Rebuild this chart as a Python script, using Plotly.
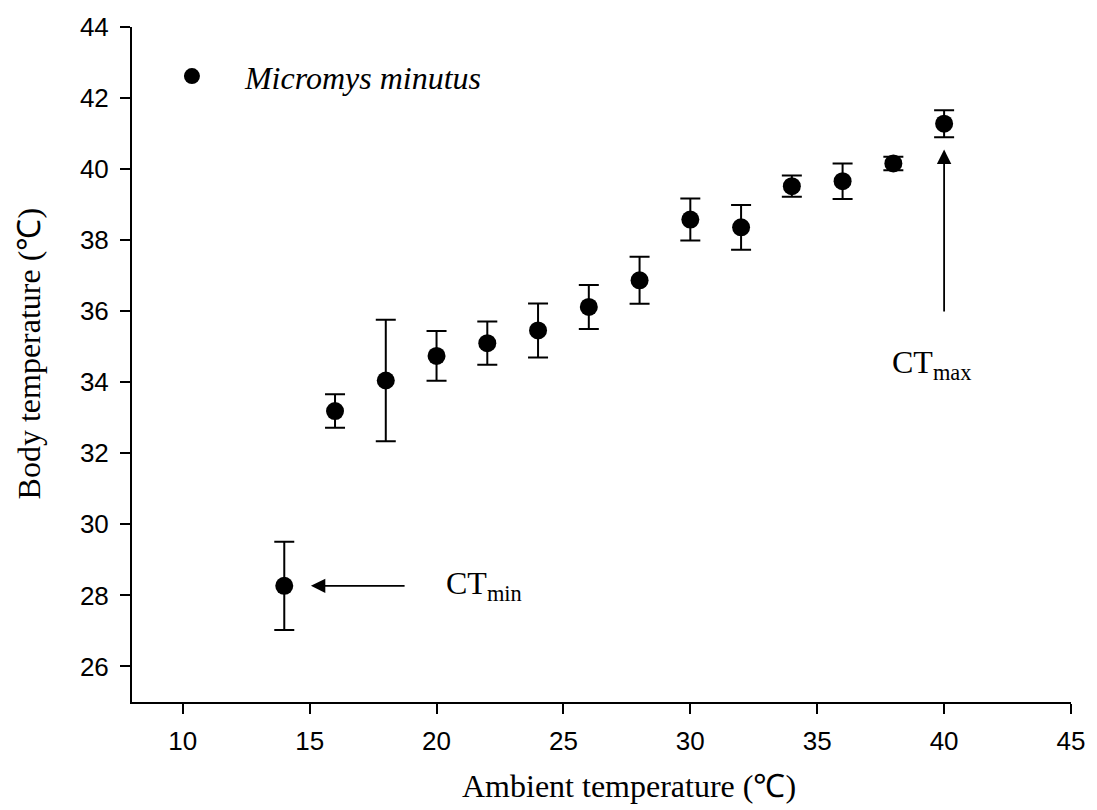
import plotly.graph_objects as go

# Ambient temperature (°C) and mean body temperature ± SE
ambient = [14, 16, 18, 20, 22, 24, 26, 28, 30, 32, 34, 36, 38, 40]
body_mean = [28.27, 33.19, 34.05, 34.74, 35.10, 35.46, 36.12, 36.87, 38.58, 38.36,
             39.52, 39.66, 40.16, 41.28]
body_se = [1.24, 0.47, 1.71, 0.70, 0.61, 0.76, 0.62, 0.66, 0.59, 0.63,
           0.30, 0.50, 0.19, 0.38]

species = "Micromys minutus"

# Critical thermal limits (arrow tip / tail in data units)
ctmin_tip = (15.05, 28.27)
ctmin_tail = (18.8, 28.27)
ctmax_tip = (40.0, 40.55)
ctmax_tail = (40.0, 35.95)

x_ticks = [10, 15, 20, 25, 30, 35, 40, 45]
y_ticks = [26, 28, 30, 32, 34, 36, 38, 40, 42, 44]

serif = "Liberation Serif, Times New Roman, serif"
sans = "Liberation Sans, Arial, sans-serif"

fig = go.Figure()
fig.add_trace(go.Scatter(
    x=ambient, y=body_mean, mode="markers", name=species,
    marker=dict(color="black", size=18, symbol="circle"),
    error_y=dict(type="data", array=body_se, visible=True,
                 color="black", thickness=2, width=10),
))

annotations = [
    dict(x=ctmin_tip[0], y=ctmin_tip[1], ax=ctmin_tail[0], ay=ctmin_tail[1],
         xref="x", yref="y", axref="x", ayref="y", text="", showarrow=True,
         arrowhead=2, arrowsize=1.6, arrowwidth=1.8, arrowcolor="black"),
    dict(x=ctmax_tip[0], y=ctmax_tip[1], ax=ctmax_tail[0], ay=ctmax_tail[1],
         xref="x", yref="y", axref="x", ayref="y", text="", showarrow=True,
         arrowhead=2, arrowsize=1.6, arrowwidth=1.8, arrowcolor="black"),
    dict(x=20.3, y=28.27, xref="x", yref="y", text="CT<sub>min</sub>",
         showarrow=False, xanchor="left", yanchor="middle",
         font=dict(family=serif, size=32, color="black")),
    dict(x=37.85, y=34.5, xref="x", yref="y", text="CT<sub>max</sub>",
         showarrow=False, xanchor="left", yanchor="middle",
         font=dict(family=serif, size=32, color="black")),
    # axis titles
    dict(x=-0.11, y=0.516, xref="paper", yref="paper",
         text="Body temperature (℃)", textangle=-90, showarrow=False,
         xanchor="center", yanchor="middle",
         font=dict(family=serif, size=32, color="black")),
    dict(x=0.529, y=-0.124, xref="paper", yref="paper",
         text="Ambient temperature (℃)", showarrow=False,
         xanchor="center", yanchor="middle",
         font=dict(family=serif, size=32, color="black")),
]

fig.update_layout(
    width=1097, height=810,
    margin=dict(l=132, r=20, t=23, b=108),
    paper_bgcolor="white", plot_bgcolor="white",
    showlegend=True,
    legend=dict(x=0.0074, y=0.927, xanchor="left", yanchor="middle",
                bgcolor="rgba(0,0,0,0)", itemwidth=96,
                font=dict(family=serif, size=32, color="black", style="italic")),
    annotations=annotations,
    xaxis=dict(
        range=[8, 45], tickvals=x_ticks, showgrid=False, zeroline=False,
        showline=True, linecolor="black", linewidth=2,
        ticks="outside", ticklen=10, tickwidth=2, tickcolor="black",
        ticklabelstandoff=5,
        tickfont=dict(family=sans, size=26, color="black"),
    ),
    yaxis=dict(
        range=[25, 44], tickvals=y_ticks, showgrid=False, zeroline=False,
        showline=True, linecolor="black", linewidth=2,
        ticks="outside", ticklen=10, tickwidth=2, tickcolor="black",
        ticklabelstandoff=6,
        tickfont=dict(family=sans, size=26, color="black"),
    ),
)

fig.write_html("out.html")
